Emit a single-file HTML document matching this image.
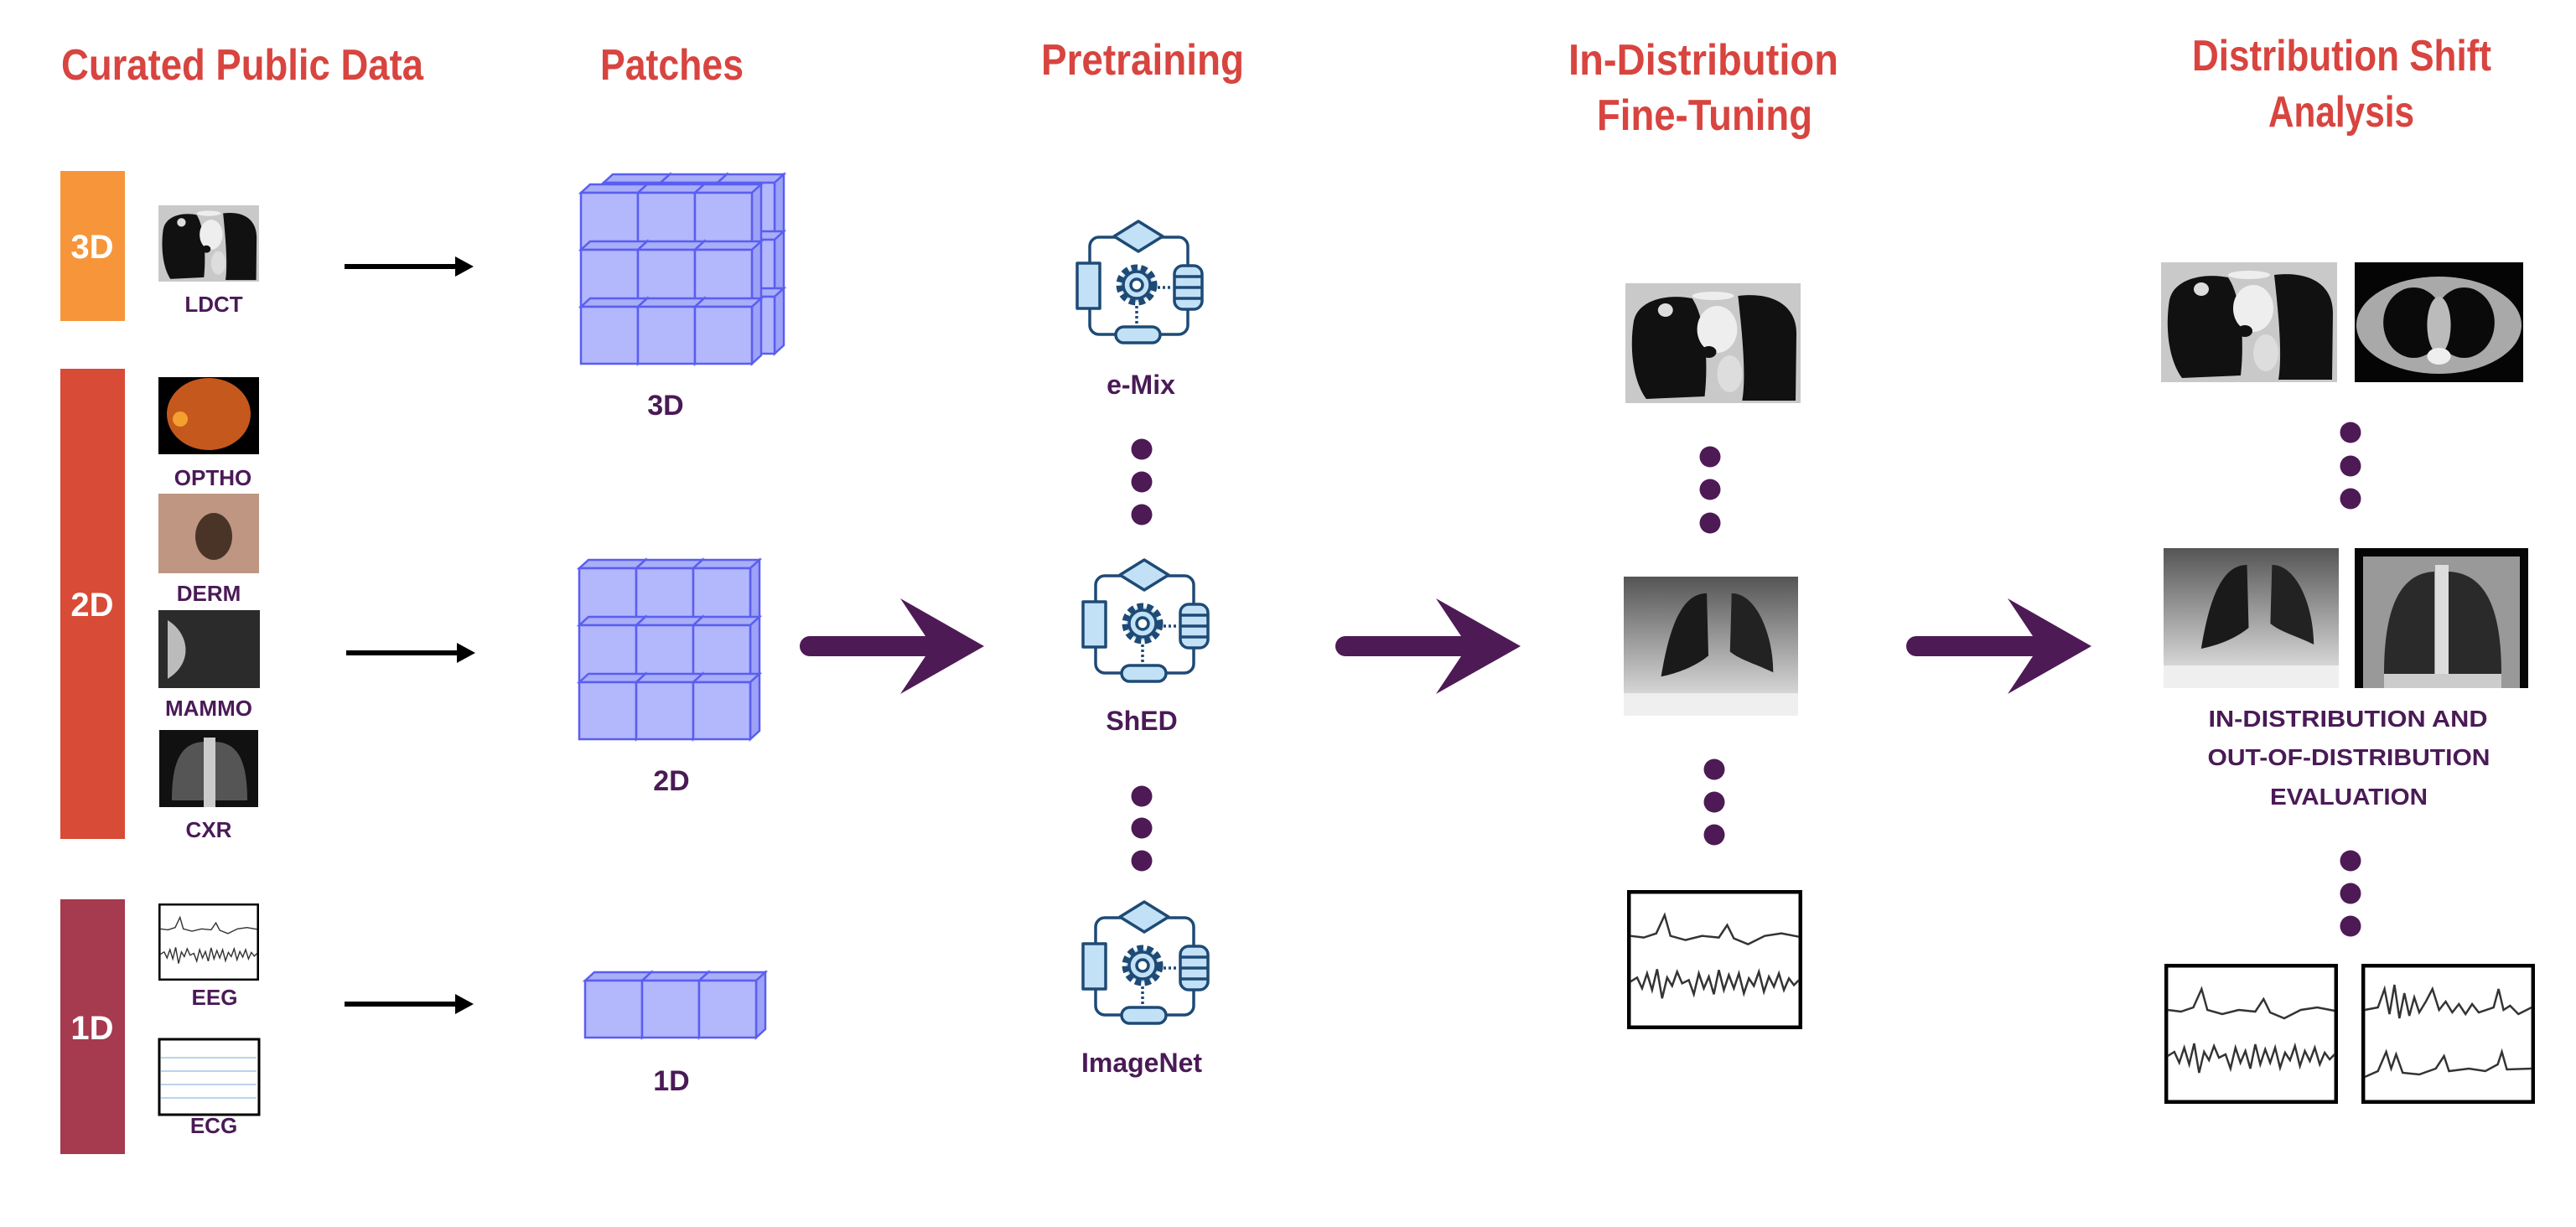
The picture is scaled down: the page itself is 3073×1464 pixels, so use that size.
<!DOCTYPE html>
<html><head><meta charset="utf-8"><style>
html,body{margin:0;padding:0;background:#fff;}
svg{display:block;}
text{font-family:"Liberation Sans",sans-serif;font-weight:bold;}
</style></head><body>
<svg width="3073" height="1464" viewBox="0 0 3073 1464" xmlns="http://www.w3.org/2000/svg">
<defs>
  <symbol id="cube" viewBox="0 0 80 80" overflow="visible">
    <polygon points="0,10 11,0 79,0 68,10" fill="#A9AEF8" stroke="#5A5EF0" stroke-width="2.5"/>
    <polygon points="68,10 79,0 79,68 68,78" fill="#9DA2F6" stroke="#5A5EF0" stroke-width="2.5"/>
    <rect x="0" y="10" width="68" height="68" fill="#B3B7FC" stroke="#5A5EF0" stroke-width="2.5"/>
  </symbol>
  <symbol id="icon" viewBox="0 0 150 150" overflow="visible">
    <g stroke="#1E4A75" stroke-width="3.5" fill="none" stroke-linejoin="round">
      <rect x="15" y="19" width="117" height="116" rx="11"/>
      <polygon points="44,18 73,0 102,18 73,36" fill="#C2E1F7"/>
      <rect x="0" y="50" width="27" height="54" fill="#C2E1F7"/>
      <rect x="116" y="53" width="33" height="52" rx="10" fill="#C2E1F7"/>
      <line x1="116" y1="66" x2="149" y2="66"/><line x1="116" y1="79" x2="149" y2="79"/><line x1="116" y1="92" x2="149" y2="92"/>
      <rect x="46" y="126" width="53" height="19" rx="9.5" fill="#C2E1F7"/>
      <circle cx="71" cy="76" r="20" fill="#C2E1F7" stroke-dasharray="7 4" stroke-width="9"/>
      <circle cx="71" cy="76" r="16" fill="#C2E1F7"/>
      <circle cx="71" cy="76" r="7" fill="#fff"/>
      <line x1="96" y1="79" x2="114" y2="79" stroke-dasharray="3 3"/>
      <line x1="71" y1="101" x2="71" y2="124" stroke-dasharray="3 3"/>
    </g>
  </symbol>
  <symbol id="ct1" viewBox="0 0 210 143" preserveAspectRatio="none">
    <rect width="210" height="143" fill="#c9c9c9"/>
    <path d="M10,45 C15,20 50,12 80,18 C95,40 100,90 95,135 L25,138 C8,115 5,75 10,45Z" fill="#111"/>
    <path d="M135,15 C175,10 205,25 205,60 L204,140 L140,140 C145,110 140,60 135,15Z" fill="#111"/>
    <ellipse cx="110" cy="55" rx="24" ry="28" fill="#eee"/>
    <ellipse cx="125" cy="108" rx="15" ry="22" fill="#ddd"/>
    <ellipse cx="100" cy="82" rx="9" ry="7" fill="#111"/>
    <ellipse cx="48" cy="32" rx="9" ry="8" fill="#ddd"/>
    <ellipse cx="105" cy="15" rx="25" ry="5" fill="#eee"/>
  </symbol>
  <symbol id="ct2" viewBox="0 0 200 143" preserveAspectRatio="none">
    <rect width="200" height="143" fill="#050505"/>
    <ellipse cx="100" cy="75" rx="98" ry="58" fill="#a9a9a9"/>
    <ellipse cx="70" cy="72" rx="36" ry="42" fill="#0a0a0a"/>
    <ellipse cx="130" cy="72" rx="36" ry="42" fill="#0a0a0a"/>
    <ellipse cx="100" cy="75" rx="14" ry="34" fill="#bbb"/>
    <ellipse cx="100" cy="112" rx="14" ry="10" fill="#eee"/>
  </symbol>
  <symbol id="cxr1" viewBox="0 0 210 167" preserveAspectRatio="none">
    <defs><linearGradient id="g1" x1="0" y1="0" x2="0" y2="1"><stop offset="0" stop-color="#555"/><stop offset="1" stop-color="#eee"/></linearGradient></defs>
    <rect width="210" height="167" fill="url(#g1)"/>
    <path d="M45,120 C55,60 70,20 100,20 L102,95 C90,105 70,115 45,120Z" fill="#1a1a1a"/>
    <path d="M130,20 C160,20 180,70 180,115 C160,105 140,100 128,90Z" fill="#222"/>
    <rect x="0" y="140" width="210" height="27" fill="#efefef"/>
  </symbol>
  <symbol id="cxr2" viewBox="0 0 207 167" preserveAspectRatio="none">
    <rect width="207" height="167" fill="#060606"/>
    <rect x="10" y="10" width="187" height="157" fill="#999"/>
    <path d="M35,150 C35,80 50,30 95,28 L95,150Z" fill="#2a2a2a"/>
    <path d="M112,28 C160,30 175,80 175,150 L112,150Z" fill="#2a2a2a"/>
    <rect x="96" y="20" width="16" height="147" fill="#ddd"/>
    <rect x="35" y="150" width="140" height="17" fill="#ccc"/>
  </symbol>
  <symbol id="eeg" viewBox="0 0 210 167" preserveAspectRatio="none">
    <rect x="2" y="2" width="206" height="163" fill="#fff" stroke="#000" stroke-width="5"/>
    <polyline fill="none" stroke="#333" stroke-width="2.5" points="4,55 20,57 35,52 45,30 52,55 70,60 90,55 110,57 120,42 128,58 145,65 165,55 185,52 206,56"/>
    <polyline fill="none" stroke="#333" stroke-width="2.5" points="4,110 12,105 18,118 24,100 30,120 36,95 42,130 48,105 54,115 60,98 66,112 74,108 80,125 86,100 92,118 98,104 104,125 110,96 116,120 122,102 128,118 134,100 140,124 146,106 152,115 158,98 164,122 170,104 176,116 182,100 188,120 194,106 200,114 206,108"/>
  </symbol>
  <symbol id="eeg2" viewBox="0 0 210 167" preserveAspectRatio="none">
    <rect x="2" y="2" width="206" height="163" fill="#fff" stroke="#000" stroke-width="5"/>
    <polyline fill="none" stroke="#333" stroke-width="2.5" points="4,55 20,52 28,30 34,60 40,25 46,65 52,35 58,62 64,40 70,58 78,45 86,30 94,55 102,45 110,58 118,48 126,60 134,48 142,58 160,52 166,30 172,55 180,50 190,60 206,52"/>
    <polyline fill="none" stroke="#333" stroke-width="2.5" points="4,135 20,128 30,105 36,125 42,108 50,130 70,132 90,125 100,110 106,128 130,125 150,128 165,120 170,105 176,126 206,125"/>
  </symbol>
</defs>

<!-- Titles -->
<g fill="#D8443F" font-size="52">
  <text x="73" y="95" textLength="432" lengthAdjust="spacingAndGlyphs">Curated Public Data</text>
  <text x="716" y="95" textLength="171" lengthAdjust="spacingAndGlyphs">Patches</text>
  <text x="1242" y="89" textLength="242" lengthAdjust="spacingAndGlyphs">Pretraining</text>
  <text x="1871" y="89" textLength="322" lengthAdjust="spacingAndGlyphs">In-Distribution</text>
  <text x="1905" y="155" textLength="257" lengthAdjust="spacingAndGlyphs">Fine-Tuning</text>
  <text x="2615" y="84" textLength="357" lengthAdjust="spacingAndGlyphs">Distribution Shift</text>
  <text x="2706" y="151" textLength="174" lengthAdjust="spacingAndGlyphs">Analysis</text>
</g>

<!-- Bars -->
<rect x="72" y="204" width="77" height="179" fill="#F7953B"/>
<rect x="72" y="440" width="77" height="561" fill="#D84B36"/>
<rect x="72" y="1073" width="77" height="304" fill="#A63A4E"/>
<g fill="#fff" font-size="40" text-anchor="middle">
  <text x="110" y="308">3D</text>
  <text x="110" y="735">2D</text>
  <text x="110" y="1240">1D</text>
</g>

<!-- thumbnails -->
<use href="#ct1" x="189" y="245" width="120" height="91"/>
<rect x="189" y="450" width="120" height="92" fill="#000"/>
<ellipse cx="249" cy="494" rx="50" ry="43" fill="#C5581C"/>
<circle cx="215" cy="500" r="9" fill="#F4A030"/>
<rect x="189" y="589" width="120" height="95" fill="#BF9682"/>
<ellipse cx="255" cy="640" rx="22" ry="28" fill="#4a3428"/>
<rect x="189" y="728" width="121" height="93" fill="#2b2b2b"/>
<path d="M200,740 C225,755 232,790 200,810Z" fill="#bbb"/>
<rect x="190" y="871" width="118" height="92" fill="#111"/>
<path d="M205,955 C205,910 215,885 245,885 L245,955Z" fill="#555"/>
<path d="M255,885 C285,885 295,910 295,955 L255,955Z" fill="#555"/>
<rect x="243" y="880" width="14" height="83" fill="#ccc"/>
<use href="#eeg" x="189" y="1078" width="120" height="92"/>
<rect x="190" y="1240" width="119" height="90" fill="#fff" stroke="#000" stroke-width="3"/>
<g stroke="#7AA7D8" stroke-width="1"><line x1="192" y1="1262" x2="306" y2="1262"/><line x1="192" y1="1278" x2="306" y2="1278"/><line x1="192" y1="1294" x2="306" y2="1294"/><line x1="192" y1="1310" x2="306" y2="1310"/></g>
<g fill="#4A1A56" font-size="26" text-anchor="middle">
  <text x="255" y="372">LDCT</text>
  <text x="254" y="579">OPTHO</text>
  <text x="249" y="717">DERM</text>
  <text x="249" y="854">MAMMO</text>
  <text x="249" y="999">CXR</text>
  <text x="256" y="1199">EEG</text>
  <text x="255" y="1352">ECG</text>
</g>

<!-- black arrows -->
<g stroke="#000" stroke-width="6"><line x1="411" y1="318" x2="545" y2="318"/><line x1="413" y1="779" x2="547" y2="779"/><line x1="411" y1="1198" x2="545" y2="1198"/></g>
<g fill="#000"><polygon points="565,318 543,306 543,330"/><polygon points="567,779 545,767 545,791"/><polygon points="565,1198 543,1186 543,1210"/></g>

<!-- cubes -->
<g>
  <use href="#cube" x="720" y="208" width="80" height="80"/><use href="#cube" x="788" y="208" width="80" height="80"/><use href="#cube" x="856" y="208" width="80" height="80"/>
  <use href="#cube" x="720" y="276" width="80" height="80"/><use href="#cube" x="788" y="276" width="80" height="80"/><use href="#cube" x="856" y="276" width="80" height="80"/>
  <use href="#cube" x="720" y="344" width="80" height="80"/><use href="#cube" x="788" y="344" width="80" height="80"/><use href="#cube" x="856" y="344" width="80" height="80"/>
  <use href="#cube" x="693" y="220" width="80" height="80"/><use href="#cube" x="761" y="220" width="80" height="80"/><use href="#cube" x="829" y="220" width="80" height="80"/>
  <use href="#cube" x="693" y="288" width="80" height="80"/><use href="#cube" x="761" y="288" width="80" height="80"/><use href="#cube" x="829" y="288" width="80" height="80"/>
  <use href="#cube" x="693" y="356" width="80" height="80"/><use href="#cube" x="761" y="356" width="80" height="80"/><use href="#cube" x="829" y="356" width="80" height="80"/>
</g>
<g>
  <use href="#cube" x="691" y="668" width="80" height="80"/><use href="#cube" x="759" y="668" width="80" height="80"/><use href="#cube" x="827" y="668" width="80" height="80"/>
  <use href="#cube" x="691" y="736" width="80" height="80"/><use href="#cube" x="759" y="736" width="80" height="80"/><use href="#cube" x="827" y="736" width="80" height="80"/>
  <use href="#cube" x="691" y="804" width="80" height="80"/><use href="#cube" x="759" y="804" width="80" height="80"/><use href="#cube" x="827" y="804" width="80" height="80"/>
</g>
<g>
  <use href="#cube" x="698" y="1160" width="80" height="80"/><use href="#cube" x="766" y="1160" width="80" height="80"/><use href="#cube" x="834" y="1160" width="80" height="80"/>
</g>
<g fill="#4A1A56" font-size="34" text-anchor="middle">
  <text x="794" y="495">3D</text>
  <text x="801" y="943">2D</text>
  <text x="801" y="1301">1D</text>
</g>

<!-- big purple arrows -->
<g fill="#4E1A56">
  <rect x="954" y="759" width="170" height="24" rx="12"/>
  <polygon points="1174,771 1074,714 1112,771 1074,828"/>
  <rect x="1593" y="759" width="170" height="24" rx="12"/>
  <polygon points="1814,771 1713,714 1751,771 1713,828"/>
  <rect x="2274" y="759" width="170" height="24" rx="12"/>
  <polygon points="2495,771 2395,714 2433,771 2395,828"/>
</g>

<!-- pretraining icons -->
<use href="#icon" x="1285" y="264" width="150" height="150"/>
<use href="#icon" x="1292" y="668" width="150" height="150"/>
<use href="#icon" x="1292" y="1076" width="150" height="150"/>
<g fill="#4A1A56" font-size="32" text-anchor="middle">
  <text x="1361" y="470">e-Mix</text>
  <text x="1362" y="871">ShED</text>
  <text x="1362" y="1279">ImageNet</text>
</g>
<g fill="#4E1A56">
  <circle cx="1362" cy="536" r="12.5"/><circle cx="1362" cy="575" r="12.5"/><circle cx="1362" cy="614" r="12.5"/>
  <circle cx="1362" cy="950" r="12.5"/><circle cx="1362" cy="988" r="12.5"/><circle cx="1362" cy="1027" r="12.5"/>
  <circle cx="2040" cy="545" r="12.5"/><circle cx="2040" cy="584" r="12.5"/><circle cx="2040" cy="624" r="12.5"/>
  <circle cx="2045" cy="918" r="12.5"/><circle cx="2045" cy="957" r="12.5"/><circle cx="2045" cy="996" r="12.5"/>
  <circle cx="2804" cy="516" r="12.5"/><circle cx="2804" cy="556" r="12.5"/><circle cx="2804" cy="595" r="12.5"/>
  <circle cx="2804" cy="1027" r="12.5"/><circle cx="2804" cy="1066" r="12.5"/><circle cx="2804" cy="1105" r="12.5"/>
</g>

<!-- fine-tuning column -->
<use href="#ct1" x="1939" y="338" width="209" height="143"/>
<use href="#cxr1" x="1937" y="688" width="208" height="166"/>
<use href="#eeg" x="1941" y="1062" width="209" height="166"/>

<!-- distribution shift column -->
<use href="#ct1" x="2578" y="313" width="210" height="143"/>
<use href="#ct2" x="2809" y="313" width="201" height="143"/>
<use href="#cxr1" x="2581" y="654" width="209" height="167"/>
<use href="#cxr2" x="2809" y="654" width="207" height="167"/>
<g fill="#4A1A56" font-size="28" text-anchor="middle">
  <text x="2801" y="867" textLength="333" lengthAdjust="spacingAndGlyphs">IN-DISTRIBUTION AND</text>
  <text x="2802" y="913" textLength="337" lengthAdjust="spacingAndGlyphs">OUT-OF-DISTRIBUTION</text>
  <text x="2802" y="960" textLength="188" lengthAdjust="spacingAndGlyphs">EVALUATION</text>
</g>
<use href="#eeg" x="2582" y="1150" width="207" height="167"/>
<use href="#eeg2" x="2817" y="1150" width="207" height="167"/>
</svg>
</body></html>
